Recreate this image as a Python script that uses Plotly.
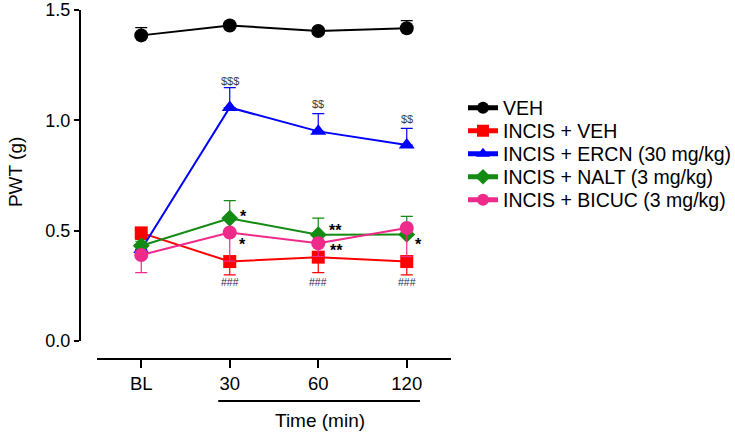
import plotly.graph_objects as go

categories = ["BL", "30", "60", "120"]
x_pos = [0, 1, 2, 3]

veh = [1.385, 1.430, 1.405, 1.417]
veh_err = [0.035, 0.012, 0.012, 0.035]

incis_veh = [0.490, 0.360, 0.380, 0.360]
incis_veh_err = [0.03, 0.06, 0.07, 0.06]

ercn = [0.415, 1.058, 0.950, 0.888]
ercn_err = [0.02, 0.09, 0.08, 0.076]

nalt = [0.432, 0.556, 0.482, 0.483]
nalt_err = [0.02, 0.08, 0.075, 0.082]

bicuc = [0.390, 0.492, 0.443, 0.512]
bicuc_err = [0.08, 0.13, 0.06, 0.13]

names = ["VEH", "INCIS + VEH", "INCIS + ERCN (30 mg/kg)",
         "INCIS + NALT (3 mg/kg)", "INCIS + BICUC (3 mg/kg)"]

FONT = "Arial, Liberation Sans, sans-serif"
W, H = 735, 433
TOP, BOTTOM_AXIS = 10, 359
PH = BOTTOM_AXIS - TOP

def py2paper(py):
    return (BOTTOM_AXIS - py) / PH

fig = go.Figure()

def add(name, y, err, up, color, symbol, size, legend):
    if up:
        ey = dict(type="data", symmetric=False, array=err, arrayminus=[0]*len(err),
                  color=color, thickness=1.2, width=6)
    else:
        ey = dict(type="data", symmetric=False, array=[0]*len(err), arrayminus=err,
                  color=color, thickness=1.2, width=6)
    fig.add_trace(go.Scatter(
        x=x_pos, y=y, name=name, mode="lines+markers",
        line=dict(color=color, width=2),
        marker=dict(color=color, symbol=symbol, size=size),
        error_y=ey, cliponaxis=False, legend=legend))

add(names[0], veh, veh_err, True, "#000000", "circle", 14, "legend")
add(names[1], incis_veh, incis_veh_err, False, "#FF0000", "square", 13, "legend2")
add(names[2], ercn, ercn_err, True, "#0000FF", "triangle-up", 14, "legend3")
add(names[3], nalt, nalt_err, True, "#138A13", "diamond", 13, "legend4")
add(names[4], bicuc, bicuc_err, False, "#EE2A8A", "circle", 14, "legend5")

annotations = []
dollar_labels = [(1, 1.18, "$$$"), (2, 1.072, "$$"), (3, 1.005, "$$")]
for x, y, t in dollar_labels:
    annotations.append(dict(x=x, y=y, xref="x", yref="y", text=t, showarrow=False,
                            font=dict(size=11, color="#3a3a44", family=FONT)))
hash_labels = [(1, 0.266, "###"), (2, 0.266, "###"), (3, 0.266, "###")]
for x, y, t in hash_labels:
    annotations.append(dict(x=x, y=y, xref="x", yref="y", text=t, showarrow=False,
                            font=dict(size=10.5, color="#2a2a55", family=FONT)))
star_labels = [(1.15, 0.582, "*"), (1.145, 0.455, "*"), (2.19, 0.52, "**"),
               (2.21, 0.43, "**"), (3.13, 0.455, "*")]
for x, y, t in star_labels:
    annotations.append(dict(x=x, y=y, xref="x", yref="y", text="<b>" + t + "</b>",
                            showarrow=False, yshift=-4,
                            font=dict(size=16, color="#000000", family=FONT)))

annotations.append(dict(x=-0.175, y=py2paper(172), xref="paper", yref="paper", text="PWT (g)",
                        textangle=-90, showarrow=False, xanchor="center", yanchor="middle",
                        font=dict(size=19, color="#000000", family=FONT)))
annotations.append(dict(x=2.02, y=py2paper(420), xref="x", yref="paper", text="Time (min)",
                        showarrow=False, xanchor="center", yanchor="middle",
                        font=dict(size=19, color="#000000", family=FONT)))

legend_rows = [108, 131, 154, 177, 200]
legend_common = dict(xref="container", yref="container", x=463 / W, xanchor="left",
                     yanchor="middle", font=dict(size=19.5, family=FONT, color="#000000"),
                     bgcolor="rgba(0,0,0,0)", itemsizing="constant")
legends = {}
for i, py in enumerate(legend_rows):
    key = "legend" if i == 0 else f"legend{i + 1}"
    legends[key] = dict(legend_common, y=1 - py / H)

fig.update_layout(
    width=W, height=H,
    margin=dict(l=80, r=284, t=TOP, b=H - BOTTOM_AXIS, autoexpand=False),
    paper_bgcolor="white", plot_bgcolor="white",
    font=dict(family=FONT, size=18, color="#000000"),
    showlegend=True,
    annotations=annotations,
    shapes=[dict(type="line", xref="x", yref="paper", x0=0.87, x1=3.15,
                 y0=py2paper(401), y1=py2paper(401), line=dict(color="black", width=2))],
    xaxis=dict(domain=[0.0458, 1], range=[-0.5, 3.5], tickvals=x_pos, ticktext=categories,
               showline=True, linecolor="black", linewidth=2, ticks="outside",
               ticklen=8, tickwidth=2, tickcolor="black", showgrid=False, zeroline=False,
               anchor="free", position=0, tickfont=dict(size=18.5),
               ticklabeloverflow="allow", automargin=False),
    yaxis=dict(domain=[py2paper(341), 1], range=[0, 1.5], tickvals=[0, 0.5, 1.0, 1.5],
               ticktext=["0.0", "0.5", "1.0", "1.5"],
               showline=True, linecolor="black", linewidth=2, ticks="outside",
               ticklen=5, tickwidth=2, tickcolor="black", showgrid=False, zeroline=False,
               anchor="free", position=0, tickfont=dict(size=18),
               ticklabeloverflow="allow", automargin=False),
    **legends,
)

fig.write_html("out.html", config={"displayModeBar": False},
               post_script="document.body.style.margin='0';")
